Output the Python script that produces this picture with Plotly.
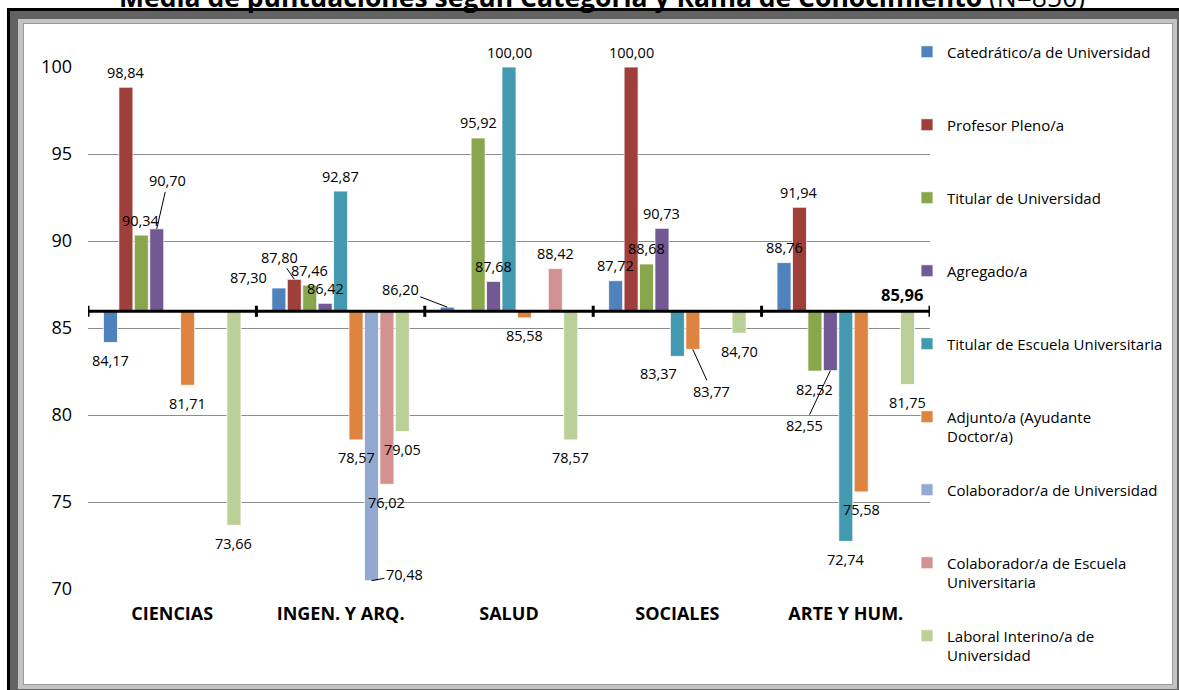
import plotly.graph_objects as go

# ---------------- data ----------------
categories = ["CIENCIAS", "INGEN. Y ARQ.", "SALUD", "SOCIALES", "ARTE Y HUM."]
series_names = [
    "Catedrático/a de Universidad",
    "Profesor Pleno/a",
    "Titular de Universidad",
    "Agregado/a",
    "Titular de Escuela Universitaria",
    "Adjunto/a (Ayudante<br>Doctor/a)",
    "Colaborador/a de Universidad",
    "Colaborador/a de Escuela<br>Universitaria",
    "Laboral Interino/a de<br>Universidad",
]
catedratico = [84.17, 87.30, 86.20, 87.72, 88.76]
profesor_pleno = [98.84, 87.80, None, 100.00, 91.94]
titular_univ = [90.34, 87.46, 95.92, 88.68, 82.52]
agregado = [90.70, 86.42, 87.68, 90.73, 82.55]
titular_escuela = [None, 92.87, 100.00, 83.37, 72.74]
adjunto = [81.71, 78.57, 85.58, 83.77, 75.58]
colaborador_univ = [None, 70.48, None, None, None]
colaborador_escuela = [None, 76.02, 88.42, None, None]
laboral_interino = [73.66, 79.05, 78.57, 84.70, 81.75]
series_values = [catedratico, profesor_pleno, titular_univ, agregado, titular_escuela,
                 adjunto, colaborador_univ, colaborador_escuela, laboral_interino]
overall_mean = 85.96
y_ticks = [70, 75, 80, 85, 90, 95, 100]

# ---------------- styles ----------------
colors = ["#4F81BD", "#9E3F3C", "#8AA64C", "#725993", "#4299B0",
          "#DD8440", "#94A9D2", "#D39190", "#BBD097"]
FONT = "Open Sans"
W, H = 1179, 690
ML, MR, MT, MB = 88, 249, 67, 101
PW, PH = W - ML - MR, H - MT - MB
BARGAP = 0.175
SLOT = (1 - BARGAP) / len(series_names)

# manual label placements (pixel offsets of label centre from bar end; arrow = leader line)
label_moves = {
    (3, 0): (11, -48, True),
    (0, 1): (-30, -10, False),
    (1, 1): (-15, -22, True),
    (6, 1): (33, -6, True),
    (0, 2): (-47, -18, True),
    (4, 3): (-19, 17, False),
    (5, 3): (19, 42, True),
    (3, 4): (-26, 55, True),
}


def px2x(p):
    return (p - ML) / PW


def py2y(p):
    return (H - MB - p) / PH


def fmt(v):
    return f"{v:.2f}".replace(".", ",")


fig = go.Figure()
legend_first_line = [52, 125, 198, 271, 344, 417, 490, 563, 636]

for i, (name, vals) in enumerate(zip(series_names, series_values)):
    lname = "legend" if i == 0 else f"legend{i + 1}"
    fig.add_trace(go.Bar(
        name=name,
        x=categories,
        y=[None if v is None else v - overall_mean for v in vals],
        base=overall_mean,
        marker=dict(color=colors[i], line=dict(color="white", width=0.8)),
        legend=lname,
        hovertemplate="%{x}: %{customdata}<extra>" + name.replace("<br>", " ") + "</extra>",
        customdata=[None if v is None else fmt(v) for v in vals],
    ))
    nlines = name.count("<br>") + 1
    centre = legend_first_line[i] + (nlines - 1) * 9.5
    fig.layout[lname] = dict(
        x=px2x(907), xanchor="left", y=py2y(centre), yanchor="middle",
        font=dict(family=FONT, size=15, color="#000"),
        bgcolor="rgba(0,0,0,0)", valign="top",
    )

annotations = []
for i, vals in enumerate(series_values):
    for c, v in enumerate(vals):
        if v is None:
            continue
        xpos = c + (i - (len(series_names) - 1) / 2) * SLOT
        base = dict(x=xpos, y=v, xref="x", yref="y", text=fmt(v),
                    xanchor="center",
                    font=dict(family=FONT, size=14.5, color="#000"))
        if (i, c) in label_moves:
            dx, dy, arrow = label_moves[(i, c)]
            if arrow:
                base.update(showarrow=True, ax=dx, ay=dy, arrowhead=0,
                            arrowwidth=1, arrowcolor="#000", standoff=0)
            else:
                base.update(showarrow=False, xshift=dx, yshift=-dy)
        else:
            base.update(showarrow=False, yshift=15 if v >= overall_mean else -18)
        annotations.append(base)

annotations.append(dict(x=px2x(902), y=overall_mean, xref="paper", yref="y",
                        xanchor="center",
                        text="<b>" + fmt(overall_mean) + "</b>", showarrow=False,
                        yshift=17, font=dict(family=FONT, size=16.5, color="#000")))
annotations.append(dict(
    x=px2x(602), y=py2y(-3), xref="paper", yref="paper", showarrow=False,
    xanchor="center", yanchor="middle",
    text="<b>Media de puntuaciones según Categoría y Rama de Conocimiento</b> (N=850)",
    font=dict(family=FONT, size=26.5, color="#000")))

shapes = []
# frame
frame = [
    ((7, 8), (1300, 800), "#000000"),
    ((10, 11), (1300, 800), "#626262"),
    ((18, 19), (1177, 689), "#C3C3C3"),
    ((23, 23), (1173, 685), "#9A9A9A"),
    ((24, 24), (1172, 684), "#FFFFFF"),
]
for (x0, y0), (x1, y1), col in frame:
    shapes.append(dict(type="rect", xref="paper", yref="paper", layer="below",
                       x0=px2x(x0), x1=px2x(x1), y0=py2y(y1), y1=py2y(y0),
                       fillcolor=col, line=dict(width=0)))
# axis line at the overall mean and category separators
shapes.append(dict(type="line", xref="paper", yref="y", x0=0, x1=1,
                   y0=overall_mean, y1=overall_mean, line=dict(color="#000", width=3)))
for k in range(len(categories) + 1):
    shapes.append(dict(type="line", xref="x", yref="y", x0=k - 0.5, x1=k - 0.5,
                       y0=overall_mean - 0.32, y1=overall_mean + 0.32,
                       line=dict(color="#000", width=3)))

fig.update_layout(
    width=W, height=H,
    margin=dict(l=ML, r=MR, t=MT, b=MB, autoexpand=False),
    paper_bgcolor="white", plot_bgcolor="rgba(0,0,0,0)",
    barmode="group", bargap=BARGAP, bargroupgap=0.09,
    showlegend=True,
    annotations=annotations, shapes=shapes,
    xaxis=dict(range=[-0.5, len(categories) - 0.5], showline=False, showgrid=False,
               zeroline=False, ticks="", ticklabelstandoff=12,
               tickfont=dict(family=FONT, size=18, color="#000", weight="bold")),
    yaxis=dict(range=[70, 100], tickvals=y_ticks, showgrid=True, gridcolor="#8C8C8C",
               gridwidth=1, zeroline=False, showline=False, ticks="",
               ticklabelstandoff=15,
               tickfont=dict(family=FONT, size=18, color="#000")),
    font=dict(family=FONT),
)

fig.write_html("out.html",
               config={"displayModeBar": False},
               post_script="document.body.style.margin='0px';"
                           "document.body.style.overflow='hidden';")
